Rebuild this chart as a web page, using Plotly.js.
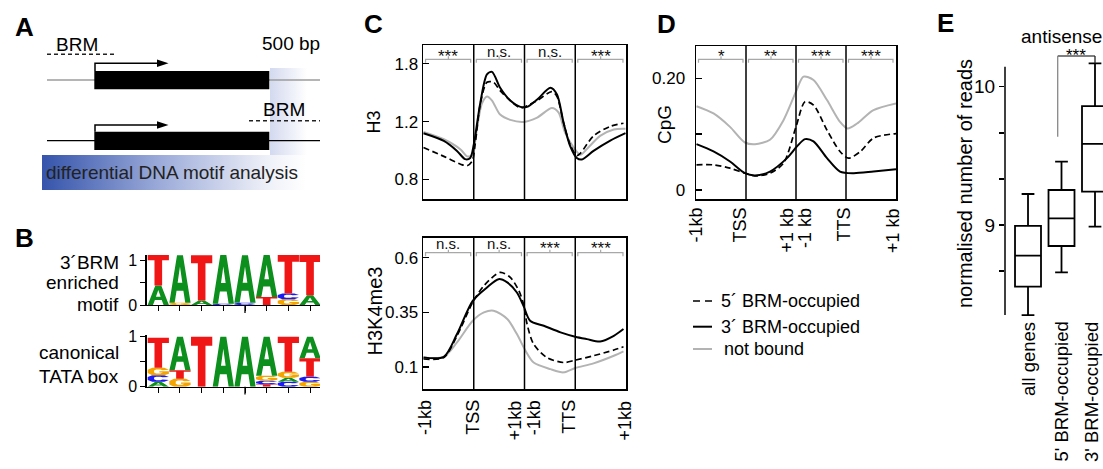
<!DOCTYPE html>
<html><head><meta charset="utf-8">
<script src="https://cdn.plot.ly/plotly-3.0.1.min.js"></script>
<style>html,body{margin:0;padding:0;background:#fff}#chart{width:1103px;height:469px}</style>
</head><body><div id="chart"></div>
<script>
// ================= DATA =================
const seriesNames = ['5´ BRM-occupied', '3´ BRM-occupied', 'not bound'];

// Panel C top: H3 (log scale)
const h3X_5 = [0.01,0.41,0.74,0.87,0.97,1.03,1.13,1.26,1.39,1.52,1.72,1.92,2.05,2.25,2.54,2.64,2.77,2.90,3.03,3.10,3.36,3.69,3.95];
const h3Y_5 = [1.00,0.94,0.89,0.88,0.91,1.03,1.36,1.58,1.58,1.49,1.39,1.32,1.34,1.39,1.48,1.43,1.19,1.02,0.945,0.96,1.085,1.16,1.186];
const h3X_3 = [0.01,0.41,0.67,0.83,0.93,1.0,1.13,1.26,1.36,1.52,1.72,1.92,2.05,2.25,2.51,2.64,2.77,2.90,3.03,3.13,3.36,3.69,3.99];
const h3Y_3 = [1.106,1.048,0.977,0.922,0.93,1.02,1.37,1.67,1.70,1.52,1.39,1.33,1.33,1.40,1.52,1.45,1.19,1.01,0.93,0.92,0.977,1.05,1.106];
const h3X_nb = [0.01,0.41,0.74,0.87,0.97,1.06,1.16,1.26,1.36,1.52,1.72,1.98,2.25,2.54,2.67,2.80,2.97,3.10,3.23,3.49,3.76,3.99];
const h3Y_nb = [1.116,1.06,0.987,0.94,0.95,1.135,1.36,1.43,1.39,1.26,1.214,1.197,1.234,1.32,1.28,1.11,1.0,0.95,0.99,1.085,1.135,1.14];
const h3TickVals = [0.8, 1.2, 1.8];
const h3TickText = ['0.8', '1.2', '1.8'];
const h3Sig = ['***', 'n.s.', 'n.s.', '***'];

// Panel C bottom: H3K4me3
const k4X_5 = [0.01,0.41,0.67,0.98,1.2,1.52,1.72,1.89,1.98,2.05,2.18,2.44,2.77,3.0,3.36,3.76,3.95];
const k4Y_5 = [0.137,0.144,0.243,0.396,0.472,0.533,0.51,0.449,0.388,0.297,0.205,0.144,0.121,0.132,0.152,0.178,0.193];
const k4X_3 = [0.01,0.41,0.67,0.98,1.26,1.49,1.66,1.85,1.98,2.11,2.38,2.71,3.0,3.23,3.49,3.76,3.95];
const k4Y_3 = [0.144,0.147,0.251,0.403,0.464,0.502,0.487,0.441,0.38,0.312,0.289,0.259,0.239,0.228,0.217,0.243,0.274];
const k4X_nb = [0.01,0.41,0.67,0.98,1.2,1.39,1.66,1.85,2.02,2.18,2.51,2.77,3.0,3.36,3.76,3.95];
const k4Y_nb = [0.144,0.147,0.213,0.312,0.35,0.358,0.32,0.251,0.175,0.121,0.091,0.076,0.096,0.117,0.152,0.172];
const k4TickVals = [0.1, 0.35, 0.6];
const k4TickText = ['0.1', '0.35', '0.6'];
const k4Sig = ['n.s.', 'n.s.', '***', '***'];
const cXLabels = ['-1kb', 'TSS', '+1kb', '-1kb', 'TTS', '+1kb'];

// Panel D: CpG
const cpgX_5 = [0.01,0.35,0.68,0.98,1.18,1.48,1.75,2.0,2.18,2.35,2.62,2.88,3.05,3.29,3.55,4.0];
const cpgY_5 = [0.045,0.045,0.039,0.030,0.025,0.030,0.048,0.113,0.158,0.152,0.107,0.069,0.057,0.069,0.093,0.101];
const cpgX_3 = [0.01,0.35,0.68,0.98,1.18,1.48,1.82,2.02,2.18,2.35,2.62,2.88,3.15,3.55,4.0];
const cpgY_3 = [0.082,0.069,0.051,0.030,0.026,0.033,0.057,0.078,0.091,0.087,0.057,0.033,0.030,0.033,0.037];
const cpgX_nb = [0.01,0.35,0.68,0.98,1.18,1.48,1.75,2.0,2.15,2.35,2.62,2.88,3.03,3.22,3.55,4.0];
const cpgY_nb = [0.150,0.137,0.113,0.085,0.082,0.09,0.125,0.176,0.203,0.197,0.161,0.122,0.110,0.119,0.143,0.155];
const cpgTickVals = [0, 0.1, 0.2];
const cpgTickText = ['0', '', '0.20'];
const cpgSig = ['*', '**', '***', '***'];
const dXLabels = ['-1kb', 'TSS', '+1 kb', '-1 kb', 'TTS', '+1 kb'];

// Panel E: box plot (antisense)
const eCategories = ['all genes', "5' BRM-occupied", "3' BRM-occupied"];
const eLower  = [8.349, 8.658, 8.988];
const eQ1     = [8.554, 8.848, 9.241];
const eMedian = [8.778, 9.048, 9.586];
const eQ3     = [8.993, 9.253, 9.860];
const eUpper  = [9.224, 9.458, 10.169];
const eTickVals = [8.6667, 9, 9.3333, 9.6667, 10];
const eTickText = ['', '9', '', '', '10'];
const eGroup = 'antisense';
const eSig = '***';
const eTitle = 'normalised number of reads';

// Panel B: sequence logos (stacks bottom -> top)
const logo1Letters = [['A','T'],['G','A'],['A','T'],['C','A'],['C','A'],['T','A'],['G','C','T'],['A','T']];
const logo1Heights = [[0.44,0.69],[0.05,1.07],[0.10,1.02],[0.03,1.10],[0.05,1.07],[0.18,0.95],[0.13,0.13,0.87],[0.22,0.91]];
const logo2Letters = [['A','C','G','T'],['G','T','A'],['T'],['A'],['A'],['T','C','G','A'],['C','A','G','T'],['G','C','T','A']];
const logo2Heights = [[0.10,0.13,0.15,0.60],[0.16,0.17,0.67],[1.0],[1.0],[1.0],[0.05,0.07,0.10,0.78],[0.10,0.08,0.12,0.70],[0.10,0.10,0.37,0.43]];
const logo1Label = ['3´BRM', 'enriched', 'motif'];
const logo2Label = ['canonical', 'TATA box'];

// Panel A texts
const aTexts = {brm: 'BRM', scale: '500 bp', analysis: 'differential DNA motif analysis'};
const panelLetters = ['A', 'B', 'C', 'D', 'E'];

// ================= STYLE / LAYOUT =================
const W = 1103, H = 469;
const px = v => v / W, py = v => 1 - v / H;
const FONT = '"Liberation Sans", Arial, Helvetica, sans-serif';
const traces = [], shapes = [], annotations = [];
const GRAY = '#b3b3b3';

function frameAxis(dom, extra) {
  return Object.assign({domain: dom, showline: true, mirror: true, linecolor: '#000', linewidth: 1.5,
    showgrid: false, zeroline: false, fixedrange: true}, extra);
}
function yTickAxis(dom, extra) {
  return frameAxis(dom, Object.assign({ticks: 'inside', ticklen: 6, tickwidth: 1.5, tickcolor: '#000',
    tickfont: {size: 17, color: '#000'}}, extra));
}

const layout = {
  width: W, height: H, margin: {l: 0, r: 0, t: 0, b: 0},
  paper_bgcolor: '#fff', plot_bgcolor: 'rgba(0,0,0,0)',
  font: {family: FONT, color: '#000'}, showlegend: false,
  xaxis:  frameAxis([px(423), px(626)], {range: [0, 4], ticks: '', showticklabels: false, anchor: 'y'}),
  yaxis:  yTickAxis([py(199), py(45)], {type: 'log', range: [-0.1566, 0.3122], tickvals: h3TickVals, ticktext: h3TickText, anchor: 'x'}),
  xaxis2: frameAxis([px(423), px(626)], {range: [0, 4], ticks: '', showticklabels: false, anchor: 'y2'}),
  yaxis2: yTickAxis([py(389), py(237.7)], {range: [0, 0.6915], tickvals: k4TickVals, ticktext: k4TickText, anchor: 'x2'}),
  xaxis3: frameAxis([px(696), px(896)], {range: [0, 4], ticks: '', showticklabels: false, anchor: 'y3'}),
  yaxis3: yTickAxis([py(199.3), py(46)], {range: [-0.0167, 0.2578], tickvals: cpgTickVals, ticktext: cpgTickText, ticklabelstandoff: 6, anchor: 'x3'}),
  xaxis4: {domain: [px(1005), 1], range: [0.313, 3.239], showline: false, ticks: '', showticklabels: false, showgrid: false, zeroline: false, anchor: 'y4', fixedrange: true},
  yaxis4: {domain: [py(318), py(60)], range: [8.3275, 10.193], showline: false, showgrid: false, zeroline: false,
    ticks: 'outside', ticklen: 5, tickwidth: 1.5, tickcolor: '#000', tickvals: eTickVals, ticktext: eTickText,
    tickfont: {size: 19}, anchor: 'x4', fixedrange: true},
  xaxis5: {domain: [px(146.7), px(320)], range: [0.465, 8.46], showline: true, linecolor: '#000', linewidth: 1.3,
    ticks: 'outside', ticklen: 5, tickcolor: '#000', tickvals: [1,2,3,4,5,6,7,8], showticklabels: false,
    showgrid: false, zeroline: false, anchor: 'y5', fixedrange: true},
  yaxis5: {domain: [py(305), py(255)], range: [0, 1.1236], showline: true, linecolor: '#000', linewidth: 1.3,
    ticks: 'outside', ticklen: 5, tickcolor: '#000', tickvals: [0, 0.5, 1], ticktext: ['0', '', '1'],
    tickfont: {size: 16}, showgrid: false, zeroline: false, anchor: 'x5', fixedrange: true},
  xaxis6: {domain: [px(146.7), px(320)], range: [0.465, 8.46], showline: true, linecolor: '#000', linewidth: 1.3,
    ticks: 'outside', ticklen: 5, tickcolor: '#000', tickvals: [1,2,3,4,5,6,7,8], showticklabels: false,
    showgrid: false, zeroline: false, anchor: 'y6', fixedrange: true},
  yaxis6: {domain: [py(386.7), py(335)], range: [0, 1.034], showline: true, linecolor: '#000', linewidth: 1.3,
    ticks: 'outside', ticklen: 5, tickcolor: '#000', tickvals: [0, 0.5, 1], ticktext: ['0', '', '1'],
    tickfont: {size: 16}, showgrid: false, zeroline: false, anchor: 'x6', fixedrange: true},
  xaxis7: {domain: [0, 1], range: [0, W], visible: false, anchor: 'y7', fixedrange: true},
  yaxis7: {domain: [0, 1], range: [H, 0], visible: false, anchor: 'x7', fixedrange: true},
  shapes: shapes, annotations: annotations
};

// ---- line profile traces (C, D)
const lineStyles = [
  {color: '#000', width: 1.7, dash: '6px,3.5px'},
  {color: '#000', width: 2},
  {color: GRAY, width: 2}
];
function addProfiles(xa, ya, sets) {
  [2, 0, 1].forEach(i => {
    traces.push({type: 'scatter', mode: 'lines', x: sets[i][0], y: sets[i][1], xaxis: xa, yaxis: ya,
      name: seriesNames[i], line: Object.assign({shape: 'spline', smoothing: 0.8}, lineStyles[i]),
      hoverinfo: 'skip', showlegend: false});
  });
}
addProfiles('x', 'y', [[h3X_5, h3Y_5], [h3X_3, h3Y_3], [h3X_nb, h3Y_nb]]);
addProfiles('x2', 'y2', [[k4X_5, k4Y_5], [k4X_3, k4Y_3], [k4X_nb, k4Y_nb]]);
addProfiles('x3', 'y3', [[cpgX_5, cpgY_5], [cpgX_3, cpgY_3], [cpgX_nb, cpgY_nb]]);

// dividers, brackets and significance labels
function panelDecor(xa, yDomRef, sig, yb, yLab) {
  [1, 2, 3].forEach(d => shapes.push({type: 'line', xref: xa, yref: yDomRef, x0: d, x1: d, y0: 0, y1: 1,
    line: {color: '#000', width: 1.5}, layer: 'above'}));
  sig.forEach((s, k) => {
    const a = k + 0.05, b = k + 0.94, c = k + 0.5;
    shapes.push({type: 'path', xref: xa, yref: 'paper',
      path: `M${a},${py(yb + 3.5)} L${a},${py(yb)} L${b},${py(yb)} L${b},${py(yb + 3.5)} M${c},${py(yb)} L${c},${py(yb - 3)}`,
      line: {color: '#a8a8a8', width: 1.2}, layer: 'above'});
    const star = s.indexOf('*') >= 0;
    annotations.push({xref: xa, yref: 'paper', x: c, y: py(star ? yLab + 4.5 : yLab), text: s, showarrow: false,
      font: {size: star ? 17 : 15, color: '#111'}, xanchor: 'center', yanchor: 'middle'});
  });
}
panelDecor('x', 'y domain', h3Sig, 59.3, 51.5);
panelDecor('x2', 'y2 domain', k4Sig, 252.7, 243.5);
panelDecor('x3', 'y3 domain', cpgSig, 59.3, 52);

// x labels (rotated) for C and D
const cLabPos = [0.03, 0.97, 1.82, 2.18, 2.87, 3.99];
const dLabPos = [0.0, 0.88, 1.82, 2.18, 2.95, 3.95];
cXLabels.forEach((t, i) => annotations.push({xref: 'x2', yref: 'paper', x: cLabPos[i], y: py(398), text: t,
  textangle: -90, showarrow: false, xanchor: 'center', yanchor: 'top', font: {size: 18}}));
dXLabels.forEach((t, i) => annotations.push({xref: 'x3', yref: 'paper', x: dLabPos[i], y: py(206), text: t,
  textangle: -90, showarrow: false, xanchor: 'center', yanchor: 'top', font: {size: 18}}));

// axis titles
function vTitle(text, x, y, size) {
  annotations.push({xref: 'paper', yref: 'paper', x: px(x), y: py(y), text: text, textangle: -90,
    showarrow: false, xanchor: 'center', yanchor: 'middle', font: {size: size}});
}
vTitle('H3', 374, 122.5, 18);
vTitle('H3K4me3', 374.5, 311, 20);
vTitle('CpG', 665, 125, 19);
vTitle(eTitle, 965, 184, 20);

// legend (custom)
const legY = [301, 326.7, 349];
[0, 1, 2].forEach(i => {
  shapes.push({type: 'line', xref: 'x7', yref: 'y7', x0: 693, x1: 712, y0: legY[i], y1: legY[i],
    line: Object.assign({}, lineStyles[i], i === 0 ? {dash: '7px,5px'} : {}), layer: 'above'});
  annotations.push({xref: 'x7', yref: 'y7', x: i === 2 ? 722 : 719, y: legY[i], text: seriesNames[i], showarrow: false,
    xanchor: 'left', yanchor: 'middle', font: {size: 18}});
});

// ---- Panel E box plot
traces.push({type: 'box', x: [1, 2, 3], q1: eQ1, median: eMedian, q3: eQ3, lowerfence: eLower, upperfence: eUpper,
  xaxis: 'x4', yaxis: 'y4', width: 0.776, whiskerwidth: 0.49, boxpoints: false,
  line: {color: '#000', width: 1.8}, fillcolor: 'rgba(255,255,255,0)', hoverinfo: 'skip', showlegend: false});
shapes.push({type: 'line', xref: 'x7', yref: 'y7', x0: 1005, x1: 1005, y0: 66.7, y1: 315, line: {color: '#000', width: 1.5}, layer: 'above'});
shapes.push({type: 'line', xref: 'x7', yref: 'y7', x0: 1057.7, x1: 1095, y0: 56, y1: 56, line: {color: '#555', width: 1.3}, layer: 'above'});
shapes.push({type: 'line', xref: 'x7', yref: 'y7', x0: 1057.7, x1: 1057.7, y0: 56, y1: 136.7, line: {color: '#888', width: 1.3}, layer: 'above'});
shapes.push({type: 'line', xref: 'x7', yref: 'y7', x0: 1095, x1: 1095, y0: 56, y1: 63.3, line: {color: '#222', width: 1.3}, layer: 'above'});
annotations.push({xref: 'x7', yref: 'y7', x: 1076, y: 55, text: eSig, showarrow: false, font: {size: 17}, xanchor: 'center', yanchor: 'middle'});
annotations.push({xref: 'x7', yref: 'y7', x: 1019, y: 36.5, text: eGroup, showarrow: false, font: {size: 19}, xanchor: 'left', yanchor: 'middle'});
const eLabShift = [0, -1, -4];
eCategories.forEach((t, i) => annotations.push({xref: 'x4', yref: 'paper', x: i + 1, y: py(320), text: t,
  textangle: -90, showarrow: false, xanchor: 'center', yanchor: 'top', xshift: eLabShift[i], font: {size: 18.5}}));

// ---- Panel B logos
const GLYPHS = {
  T: [[[0,1],[1,1],[1,0.82],[0.68,0.82],[0.68,0],[0.32,0],[0.32,0.82],[0,0.82]]],
  A: [[[0,0],[0.36,1],[0.64,1],[1,0],[0.75,0],[0.66,0.25],[0.34,0.25],[0.25,0]], [[0.39,0.42],[0.61,0.42],[0.5,0.76]]],
  C: [[[1,0.72],[0.78,1],[0.22,1],[0,0.72],[0,0.28],[0.22,0],[0.78,0],[1,0.28],[0.7,0.33],[0.6,0.24],[0.4,0.24],[0.3,0.36],[0.3,0.64],[0.4,0.76],[0.6,0.76],[0.7,0.67]]],
  G: [[[1,0.72],[0.78,1],[0.22,1],[0,0.72],[0,0.28],[0.22,0],[0.78,0],[1,0.2],[1,0.52],[0.55,0.52],[0.55,0.36],[0.72,0.36],[0.6,0.24],[0.4,0.24],[0.3,0.36],[0.3,0.64],[0.4,0.76],[0.6,0.76],[0.7,0.67]]]
};
const LETTER_COLOR = {A: '#0c8f1c', T: '#f01616', C: '#1c1cf0', G: '#f4a400'};
function addLogo(letters, heights, xa, ya) {
  letters.forEach((stack, i) => {
    let base = 0;
    stack.forEach((L, j) => {
      const h = heights[i][j], xc = i + 1, hw = 0.49;
      const path = GLYPHS[L].map(poly => 'M' + poly.map(([u, v]) =>
        (xc - hw + 2 * hw * u).toFixed(4) + ',' + (base + h * v).toFixed(4)).join('L') + 'Z').join(' ');
      shapes.push({type: 'path', xref: xa, yref: ya, path: path, fillcolor: LETTER_COLOR[L], line: {width: 0}, layer: 'above'});
      base += h;
    });
  });
  shapes.push({type: 'line', xref: xa, yref: 'paper', x0: 5, x1: 5,
    y0: py(ya === 'y5' ? 305 : 386.7), y1: py(ya === 'y5' ? 313 : 394.5), line: {color: '#000', width: 1.3}});
}
addLogo(logo1Letters, logo1Heights, 'x5', 'y5');
addLogo(logo2Letters, logo2Heights, 'x6', 'y6');
const l1Y = [262.5, 282.5, 304], l2Y = [352.5, 376];
logo1Label.forEach((t, i) => annotations.push({xref: 'x7', yref: 'y7', x: 120.5, y: l1Y[i], text: t, showarrow: false, xanchor: 'right', yanchor: 'middle', font: {size: 19}}));
logo2Label.forEach((t, i) => annotations.push({xref: 'x7', yref: 'y7', x: 120.5, y: l2Y[i], text: t, showarrow: false, xanchor: 'right', yanchor: 'middle', font: {size: 19}}));

// ---- Panel A schematic
traces.push({type: 'scatter', x: [270, 307, 307, 270], y: [68, 68, 156, 156], fill: 'toself', mode: 'lines',
  line: {width: 0, color: 'rgba(0,0,0,0)'}, xaxis: 'x7', yaxis: 'y7', hoverinfo: 'skip', showlegend: false,
  fillgradient: {type: 'horizontal', colorscale: [[0, '#d3d9ef'], [1, '#ffffff']]}});
traces.push({type: 'scatter', x: [42, 306, 306, 42], y: [155, 155, 190, 190], fill: 'toself', mode: 'lines',
  line: {width: 0, color: 'rgba(0,0,0,0)'}, xaxis: 'x7', yaxis: 'y7', hoverinfo: 'skip', showlegend: false,
  fillgradient: {type: 'horizontal', colorscale: [[0, '#3554ab'], [0.45, '#9cabd9'], [0.85, '#eef0f8'], [1, '#ffffff']]}});
function pxLine(x0, y0, x1, y1, line) { shapes.push({type: 'line', xref: 'x7', yref: 'y7', x0, y0, x1, y1, line, layer: 'above'}); }
function pxPath(path, fill, line) { shapes.push({type: 'path', xref: 'x7', yref: 'y7', path, fillcolor: fill, line, layer: 'above'}); }
function pxRect(x0, y0, x1, y1, fill) { shapes.push({type: 'rect', xref: 'x7', yref: 'y7', x0, y0, x1, y1, fillcolor: fill, line: {width: 0}, layer: 'above'}); }
pxLine(47, 54.3, 117, 54.3, {color: '#222', width: 1.6, dash: '4px,3px'});
pxLine(47, 80, 320, 80, {color: '#9c9c9c', width: 1.6});
pxPath('M95,71 L95,63.3 L160,63.3', 'rgba(0,0,0,0)', {color: '#000', width: 1.5});
pxPath('M157,59.6 L168.5,63.3 L157,67 Z', '#000', {width: 0});
pxRect(94.3, 71, 269.3, 89.3, '#000');
pxLine(249, 120.7, 320, 120.7, {color: '#222', width: 1.6, dash: '4px,3px'});
pxLine(47, 140.7, 320, 140.7, {color: '#000', width: 1.3});
pxPath('M95,131.7 L95,125 L160,125', 'rgba(0,0,0,0)', {color: '#000', width: 1.5});
pxPath('M157,121.3 L168.5,125 L157,128.7 Z', '#000', {width: 0});
pxRect(94.3, 131.7, 269.3, 150, '#000');
annotations.push({xref: 'x7', yref: 'y7', x: 76.7, y: 44, text: aTexts.brm, showarrow: false, font: {size: 19}, xanchor: 'center', yanchor: 'middle'});
annotations.push({xref: 'x7', yref: 'y7', x: 322, y: 43.5, text: aTexts.scale, showarrow: false, font: {size: 19}, xanchor: 'right', yanchor: 'middle'});
annotations.push({xref: 'x7', yref: 'y7', x: 284, y: 109, text: aTexts.brm, showarrow: false, font: {size: 19}, xanchor: 'center', yanchor: 'middle'});
annotations.push({xref: 'x7', yref: 'y7', x: 44, y: 172.5, text: aTexts.analysis, showarrow: false, font: {size: 19, color: '#222'}, xanchor: 'left', yanchor: 'middle'});

// panel letters
const letterPos = [[24, 26.5], [24, 238], [373, 24], [666, 24], [945, 23]];
panelLetters.forEach((t, i) => annotations.push({xref: 'x7', yref: 'y7', x: letterPos[i][0], y: letterPos[i][1], text: t,
  showarrow: false, xanchor: 'center', yanchor: 'middle', font: {size: 26, weight: 'bold'}}));

Plotly.newPlot('chart', traces, layout, {staticPlot: true, displayModeBar: false});
</script></body></html>
